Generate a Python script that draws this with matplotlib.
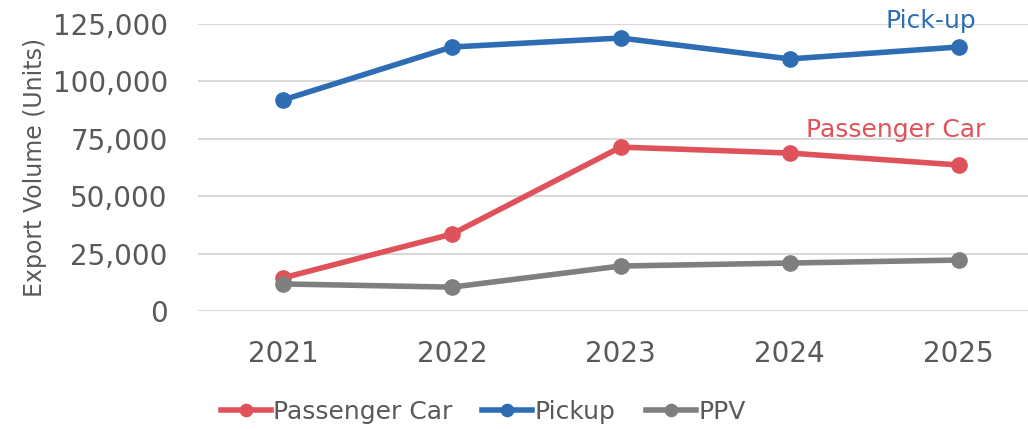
import matplotlib.pyplot as plt
from matplotlib.ticker import FuncFormatter

years = ['2021', '2022', '2023', '2024', '2025']
passenger_car = [14400, 33500, 71400, 68800, 63600]
pickup = [91900, 115000, 118900, 109800, 115000]
ppv = [11800, 10400, 19600, 20900, 22200]

RED = '#E0525A'
BLUE = '#2E6DB4'
GRAY = '#7F7F7F'
TXT = '#595959'

plt.rcParams['font.family'] = ['DejaVu Sans']

fig = plt.figure(figsize=(10.28, 4.29), dpi=100)
ax = fig.add_axes([0.193, 0.275, 0.807, 0.669])

x = range(len(years))
ax.plot(x, passenger_car, color=RED, lw=4, marker='o', ms=11, label='Passenger Car', clip_on=False, zorder=3)
ax.plot(x, pickup, color=BLUE, lw=4, marker='o', ms=11, label='Pickup', clip_on=False, zorder=3)
ax.plot(x, ppv, color=GRAY, lw=4, marker='o', ms=11, label='PPV', clip_on=False, zorder=3)

ax.set_xlim(-0.5, 4.41)
ax.set_ylim(0, 125000)
ax.set_yticks(range(0, 125001, 25000))
ax.yaxis.set_major_formatter(FuncFormatter(lambda v, p: f'{int(v):,}'))
ax.set_xticks(list(x))
ax.set_xticklabels(years)
ax.grid(axis='y', color='#D9D9D9', lw=1.5)
ax.set_axisbelow(True)
for s in ax.spines.values():
    s.set_visible(False)
ax.tick_params(axis='both', length=0, labelsize=20, colors=TXT)
ax.tick_params(axis='y', pad=22)
ax.tick_params(axis='x', pad=21)
ax.set_ylabel('Export Volume (Units)', fontsize=17, color=TXT, labelpad=4)

ax.text(4.106, 123200, 'Pick-up', color=BLUE, fontsize=18, ha='right', va='baseline', clip_on=False)
ax.text(4.16, 75800, 'Passenger Car', color=RED, fontsize=18, ha='right', va='baseline')

fig.legend(loc='center', bbox_to_anchor=(0.47, 0.04), ncol=3, frameon=False,
           fontsize=18, labelcolor=TXT, handlelength=2.0, columnspacing=1.2, handletextpad=0.1,
           markerscale=0.8)

plt.savefig('out.png')
